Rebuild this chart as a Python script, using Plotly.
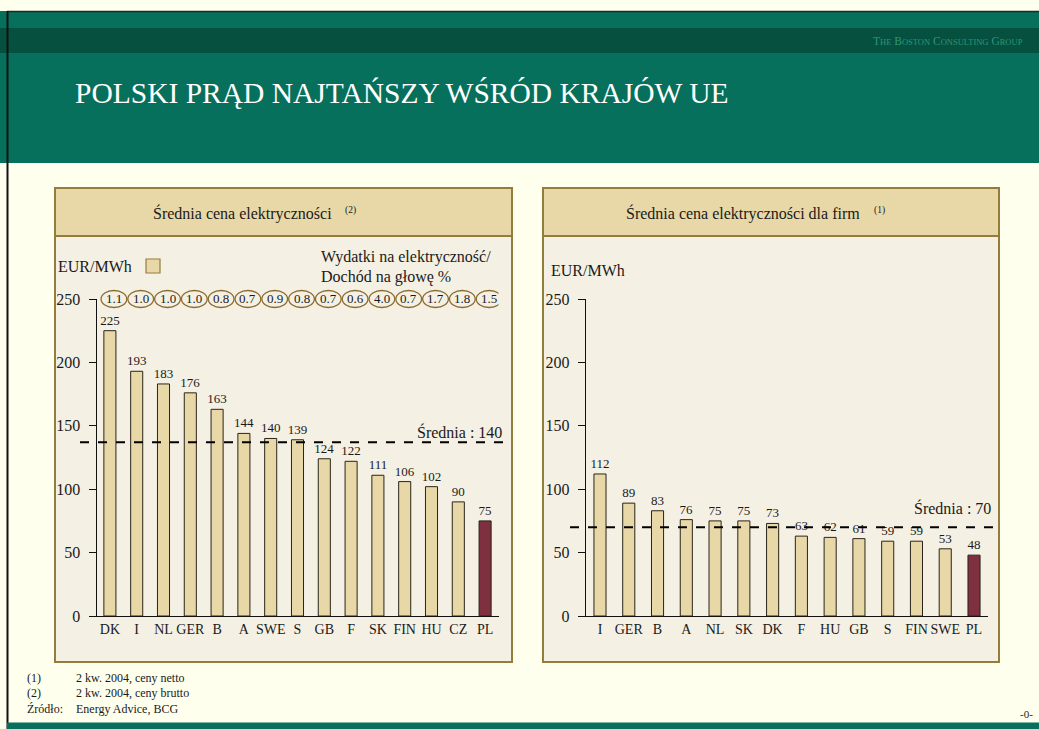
import plotly.graph_objects as go

# ---------------- data ----------------
left_categories = ["DK", "I", "NL", "GER", "B", "A", "SWE", "S", "GB", "F", "SK", "FIN", "HU", "CZ", "PL"]
left_values = [225, 193, 183, 176, 163, 144, 140, 139, 124, 122, 111, 106, 102, 90, 75]
left_share = ["1.1", "1.0", "1.0", "1.0", "0.8", "0.7", "0.9", "0.8", "0.7", "0.6", "4.0", "0.7", "1.7", "1.8", "1.5"]
left_avg_label = 140
left_avg_line = 137

right_categories = ["I", "GER", "B", "A", "NL", "SK", "DK", "F", "HU", "GB", "S", "FIN", "SWE", "PL"]
right_values = [112, 89, 83, 76, 75, 75, 73, 63, 62, 61, 59, 59, 53, 48]
right_avg_label = 70
right_avg_line = 70

y_ticks = [0, 50, 100, 150, 200, 250]

# ---------------- styling ----------------
W, H = 1039, 729
SERIF = "Liberation Serif, Times New Roman, serif"
PAGE_BG = "#FFFFEE"
GREEN = "#07705C"
DARK_GREEN = "#05503F"
PANEL_BG = "#F5F0E4"
TITLE_BG = "#E8D8A8"
BORDER = "#957C3C"
BAR = "#E8D8A8"
PL_BAR = "#7E3040"
OUTLINE = "#2a2418"
TXT = "#1a1a1a"


def px(x):
    return x / W


def py(y):
    return 1 - y / H


def colors(cats):
    return [PL_BAR if c == "PL" else BAR for c in cats]


fig = go.Figure()
for cats, vals, xa, ya, w in [(left_categories, left_values, "x", "y", 0.45),
                              (right_categories, right_values, "x2", "y2", 0.42)]:
    fig.add_trace(go.Bar(
        x=list(range(len(cats))), y=vals, xaxis=xa, yaxis=ya,
        marker=dict(color=colors(cats), line=dict(color=OUTLINE, width=1)),
        width=w, text=[str(v) for v in vals], textposition="outside",
        constraintext="none",
        textfont=dict(family=SERIF, size=13, color=TXT),
        outsidetextfont=dict(family=SERIF, size=13, color=TXT),
        cliponaxis=False, hoverinfo="x+y", showlegend=False,
    ))

ydom = [py(616), py(299)]
axis_common_y = dict(
    range=[0, 250], tickvals=y_ticks, showline=True, linecolor="#111", linewidth=1,
    ticks="outside", ticklen=7, tickcolor="#111", showgrid=False, zeroline=False,
    tickfont=dict(family=SERIF, size=16, color=TXT), ticklabelstandoff=5,
    automargin=False, fixedrange=True,
)
axis_common_x = dict(
    showline=True, linecolor="#111", linewidth=1, ticks="", showgrid=False,
    zeroline=False, tickfont=dict(family=SERIF, size=14, color=TXT),
    automargin=False, fixedrange=True,
)

fig.update_layout(
    template="none",
    width=W, height=H, autosize=False, margin=dict(l=0, r=0, t=0, b=0, pad=0),
    paper_bgcolor=PAGE_BG, plot_bgcolor="rgba(0,0,0,0)",
    showlegend=False,
    xaxis=dict(domain=[px(96.5), px(498.5)], range=[-0.5, 14.5],
               tickvals=list(range(len(left_categories))), ticktext=left_categories,
               anchor="y", **axis_common_x),
    yaxis=dict(domain=ydom, anchor="x", **axis_common_y),
    xaxis2=dict(domain=[px(585.6), px(988.4)], range=[-0.5, 13.5],
                tickvals=list(range(len(right_categories))), ticktext=right_categories,
                anchor="y2", **axis_common_x),
    yaxis2=dict(domain=ydom, anchor="x2", **axis_common_y),
)

shapes = []
ann = []

# header
shapes.append(dict(type="rect", xref="paper", yref="paper", x0=0, x1=1, y0=py(163), y1=py(11),
                   fillcolor=GREEN, line=dict(width=0), layer="below"))
shapes.append(dict(type="rect", xref="paper", yref="paper", x0=0, x1=1, y0=py(53), y1=py(28),
                   fillcolor=DARK_GREEN, line=dict(width=0), layer="below"))
shapes.append(dict(type="line", xref="paper", yref="paper", x0=px(7), x1=1, y0=py(11.5), y1=py(11.5),
                   line=dict(color="#1a2a25", width=1.5), layer="below"))
# left border line
shapes.append(dict(type="line", xref="paper", yref="paper", x0=px(7.5), x1=px(7.5), y0=0, y1=py(11),
                   line=dict(color="#111", width=2), layer="below"))
# bottom band
shapes.append(dict(type="rect", xref="paper", yref="paper", x0=px(7), x1=1, y0=0, y1=py(722.5),
                   fillcolor=GREEN, line=dict(width=0), layer="below"))

# panels
for (x0, x1) in [(55, 512), (543, 999)]:
    shapes.append(dict(type="rect", xref="paper", yref="paper", x0=px(x0), x1=px(x1),
                       y0=py(662), y1=py(236), fillcolor=PANEL_BG,
                       line=dict(color=BORDER, width=2), layer="below"))
    shapes.append(dict(type="rect", xref="paper", yref="paper", x0=px(x0), x1=px(x1),
                       y0=py(236), y1=py(188), fillcolor=TITLE_BG,
                       line=dict(color=BORDER, width=2), layer="below"))

# legend square
shapes.append(dict(type="rect", xref="paper", yref="paper", x0=px(146), x1=px(160),
                   y0=py(273), y1=py(259), fillcolor=BAR, line=dict(color=BORDER, width=1.2)))

# ellipses with share values
for i, s in enumerate(left_share):
    cx = i + 0.15
    shapes.append(dict(type="circle", xref="x", yref="paper", x0=cx - 0.48, x1=cx + 0.48,
                       y0=py(307.5), y1=py(290.5), fillcolor=PANEL_BG,
                       line=dict(color="#8B6B2E", width=1.3)))
    ann.append(dict(x=cx, y=py(299), xref="x", yref="paper", text=s, showarrow=False,
                    font=dict(family=SERIF, size=13, color=TXT), xanchor="center", yanchor="middle"))

# average lines
shapes.append(dict(type="line", xref="paper", yref="y", x0=px(80), x1=px(505),
                   y0=left_avg_line, y1=left_avg_line, line=dict(color="#000", width=2, dash="dash"),
                   layer="above"))
shapes.append(dict(type="line", xref="paper", yref="y2", x0=px(570), x1=px(995),
                   y0=right_avg_line, y1=right_avg_line, line=dict(color="#000", width=2, dash="dash"),
                   layer="above"))

ann.append(dict(x=px(504), y=py(432), xref="paper", yref="paper",
                text=f"Średnia : {left_avg_label}", showarrow=False,
                font=dict(family=SERIF, size=16, color=TXT), xanchor="right", yanchor="middle"))
ann.append(dict(x=px(993), y=py(508), xref="paper", yref="paper",
                text=f"Średnia : {right_avg_label}", showarrow=False,
                font=dict(family=SERIF, size=16, color=TXT), xanchor="right", yanchor="middle"))

# texts
ann.append(dict(x=px(73), y=py(93), xref="paper", yref="paper",
                text="POLSKI PRĄD NAJTAŃSZY WŚRÓD KRAJÓW UE", showarrow=False,
                font=dict(family=SERIF, size=29.5, color="white"), xanchor="left", yanchor="middle"))
sc = "<span style='font-size:8.5px'>"
ann.append(dict(x=px(1025), y=py(40.5), xref="paper", yref="paper",
                text=f"T{sc}HE</span> B{sc}OSTON</span> C{sc}ONSULTING</span> G{sc}ROUP</span>",
                showarrow=False, font=dict(family=SERIF, size=11.5, color="#2E9676"),
                xanchor="right", yanchor="middle"))

ann.append(dict(x=px(242), y=py(213), xref="paper", yref="paper", text="Średnia cena elektryczności",
                showarrow=False, font=dict(family=SERIF, size=16, color=TXT),
                xanchor="center", yanchor="middle"))
ann.append(dict(x=px(343), y=py(211), xref="paper", yref="paper", text="(2)",
                showarrow=False, font=dict(family=SERIF, size=9.5, color=TXT),
                xanchor="left", yanchor="middle"))
ann.append(dict(x=px(743), y=py(213), xref="paper", yref="paper", text="Średnia cena elektryczności dla firm",
                showarrow=False, font=dict(family=SERIF, size=16, color=TXT),
                xanchor="center", yanchor="middle"))
ann.append(dict(x=px(872), y=py(211), xref="paper", yref="paper", text="(1)",
                showarrow=False, font=dict(family=SERIF, size=9.5, color=TXT),
                xanchor="left", yanchor="middle"))

ann.append(dict(x=px(56), y=py(266), xref="paper", yref="paper", text="EUR/MWh",
                showarrow=False, font=dict(family=SERIF, size=16, color=TXT),
                xanchor="left", yanchor="middle"))
ann.append(dict(x=px(319), y=py(257), xref="paper", yref="paper", text="Wydatki na elektryczność/",
                showarrow=False, font=dict(family=SERIF, size=16, color=TXT),
                xanchor="left", yanchor="middle"))
ann.append(dict(x=px(319), y=py(277), xref="paper", yref="paper", text="Dochód na głowę %",
                showarrow=False, font=dict(family=SERIF, size=16, color=TXT),
                xanchor="left", yanchor="middle"))
ann.append(dict(x=px(549), y=py(270), xref="paper", yref="paper", text="EUR/MWh",
                showarrow=False, font=dict(family=SERIF, size=16, color=TXT),
                xanchor="left", yanchor="middle"))

# footnotes
foot = [("(1)", "2 kw. 2004, ceny netto", 678), ("(2)", "2 kw. 2004, ceny brutto", 693),
        ("Źródło:", "Energy Advice, BCG", 709)]
for a, b, yy in foot:
    ann.append(dict(x=px(25), y=py(yy), xref="paper", yref="paper", text=a, showarrow=False,
                    font=dict(family=SERIF, size=12, color=TXT), xanchor="left", yanchor="middle"))
    ann.append(dict(x=px(74), y=py(yy), xref="paper", yref="paper", text=b, showarrow=False,
                    font=dict(family=SERIF, size=12, color=TXT), xanchor="left", yanchor="middle"))
ann.append(dict(x=px(1035), y=py(714), xref="paper", yref="paper", text="-0-", showarrow=False,
                font=dict(family=SERIF, size=11, color=TXT), xanchor="right", yanchor="middle"))

fig.update_layout(shapes=shapes, annotations=ann)
fig.write_html(
    "out.html",
    config={"displayModeBar": False, "responsive": False},
    post_script=("document.documentElement.style.margin='0';"
                 "document.body.style.margin='0';document.body.style.padding='0';"
                 "document.body.style.overflow='hidden';"),
)
